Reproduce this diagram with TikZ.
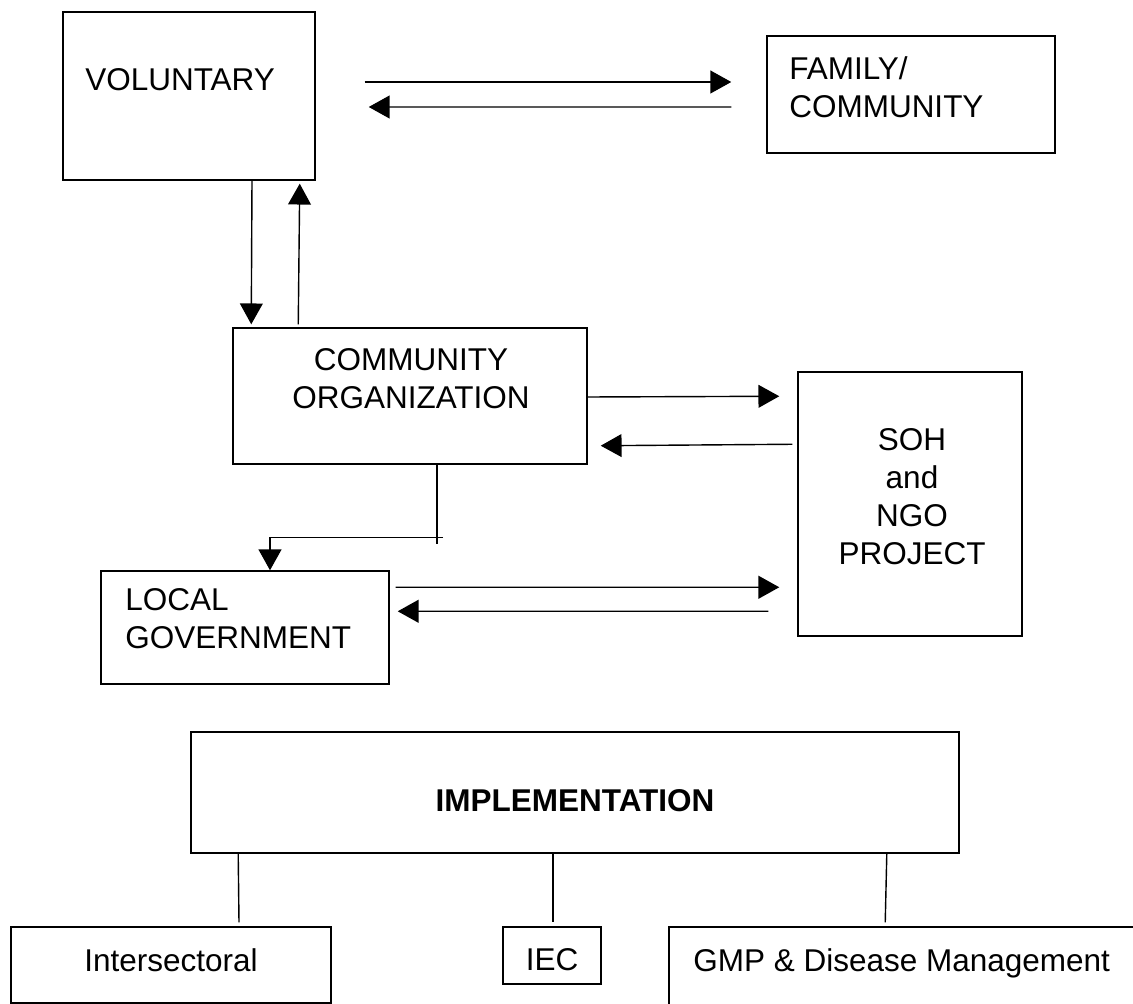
\documentclass[tikz,border=0pt]{standalone}
\usepackage{fontspec}
\setmainfont{Liberation Sans}
\usepackage{tikz}
\usetikzlibrary{arrows.meta}
\tikzstyle{box} = [rectangle, draw=black, line width=1pt, inner sep=0pt]
\tikzstyle{lbl} = [inner sep=0pt, font={\fontsize{22.4}{27}\selectfont}]
\tikzstyle{arr} = [line width=1pt, -{Triangle[length=0.52cm, width=0.57cm]}]
\tikzstyle{link} = [line width=1pt]

\begin{document}
\begin{tikzpicture}[x=0.025cm, y=-0.025cm]
  \clip (0,0) rectangle (1133,1004);
  \fill [white] (0,0) rectangle (1133,1004);

  % upper boxes
  \node (vol) [box, minimum width=6.3cm, minimum height=4.2cm] at (189,96) {};
  \node (fam) [box, minimum width=7.2cm, minimum height=2.925cm] at (911,94.5) {};
  \node (co) [box, minimum width=8.85cm, minimum height=3.4cm] at (410,396) {};
  \node (soh) [box, minimum width=5.6cm, minimum height=6.6cm] at (910,504) {};
  \node (lg) [box, minimum width=7.2cm, minimum height=2.825cm] at (245,627.5) {};

  \node (voltxt) [lbl, anchor=north west] at (85,68) {VOLUNTARY};
  \node (famtxt) [lbl, anchor=north west, align=left] at (789,56) {FAMILY/\\COMMUNITY};
  \node (cotxt) [lbl, anchor=north, align=center] at (411,348) {COMMUNITY\\ORGANIZATION};
  \node (sohtxt) [lbl, anchor=north, align=center] at (912,428) {SOH\\and\\NGO\\PROJECT};
  \node (lgtxt) [lbl, anchor=north west, align=left] at (125,588) {LOCAL\\GOVERNMENT};

  % lower boxes
  \node (impl) [box, minimum width=19.2cm, minimum height=3.025cm] at (575,792.5) {};
  \node (inter) [box, minimum width=8cm, minimum height=1.9cm] at (171,965) {};
  \node (iec) [box, minimum width=2.45cm, minimum height=1.425cm] at (552,955.5) {};
  \node (gmp) [box, minimum width=12.8cm, minimum height=3.3cm] at (925,993) {};

  \node (impltxt) [lbl, anchor=north, font={\fontsize{22.4}{27}\selectfont\bfseries}] at (575,789) {IMPLEMENTATION};
  \node (intertxt) [lbl, anchor=north] at (171,948) {Intersectoral};
  \node (iectxt) [lbl, anchor=north] at (552,948) {IEC};
  \node (gmptxt) [lbl, anchor=north west] at (693,948) {GMP \& Disease Management};

  % arrows
  \draw [arr] ([shift={(49,-14)}]vol.east) -- ([shift={(-35,-12.5)}]fam.west);
  \draw [arr] ([shift={(-35,12.5)}]fam.west) -- ([shift={(53,11)}]vol.east);
  \draw [arr] ([shift={(63,0)}]vol.south) -- ([shift={(19,-3)}]co.north west);
  \draw [arr] ([shift={(66,-3)}]co.north west) -- ([shift={(-16,3)}]vol.south east);
  \draw [arr] ([shift={(0,1)}]co.east) -- ([shift={(-18,25)}]soh.north west);
  \draw [arr] ([shift={(-5,73)}]soh.north west) -- ([shift={(13,-19)}]co.south east);
  \draw [link] ([shift={(27,0)}]co.south) -- ++(0,79);
  \draw [arr] ([shift={(33,73)}]co.south) -| ([shift={(25,0)}]lg.north);
  \draw [arr] ([shift={(6,17)}]lg.north east) -- ([shift={(-18,216)}]soh.north west);
  \draw [arr] ([shift={(-29,240)}]soh.north west) -- ([shift={(8,41)}]lg.north east);

  % implementation links
  \draw [link] ([shift={(48,0)}]impl.south west) -- ([shift={(68,-4)}]inter.north);
  \draw [link] ([shift={(-22,0)}]impl.south) -- ([shift={(1,-4)}]iec.north);
  \draw [link] ([shift={(-73,0)}]impl.south east) -- ([shift={(217,-4)}]gmp.north west);
\end{tikzpicture}
\end{document}
